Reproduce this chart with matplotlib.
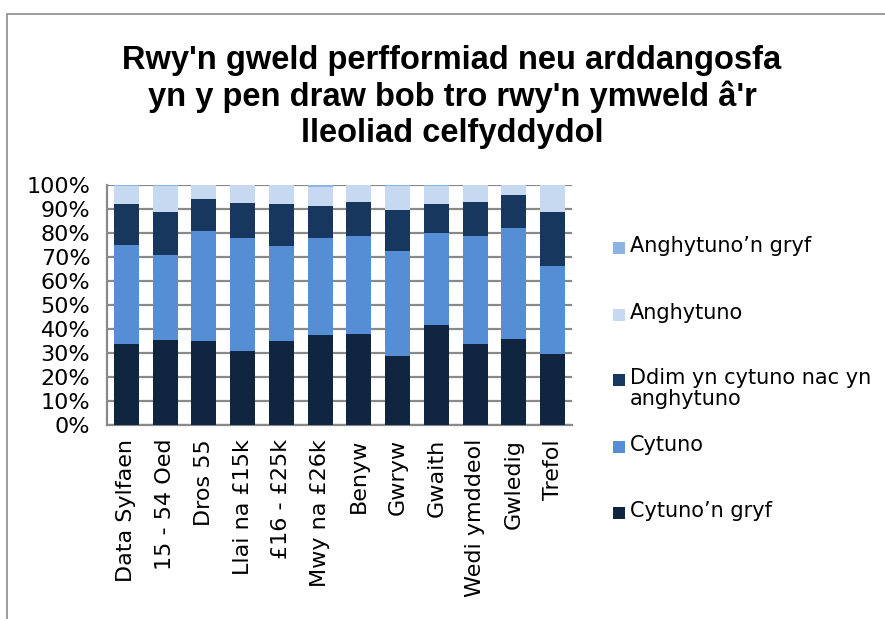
import matplotlib.pyplot as plt
import numpy as np
from matplotlib.patches import Rectangle

plt.rcParams["font.family"] = ["DejaVu Sans"]

# data (percent)
groups = ["Data Sylfaen", "15 - 54 Oed", "Dros 55", "Llai na £15k", "£16 - £25k",
          "Mwy na £26k", "Benyw", "Gwryw", "Gwaith", "Wedi ymddeol", "Gwledig", "Trefol"]
cytuno_gryf = [33.6, 35.4, 34.9, 31.0, 34.9, 37.5, 37.9, 28.6, 41.5, 33.9, 35.7, 29.4]
cytuno = [41.4, 35.6, 45.9, 46.8, 39.7, 40.3, 40.7, 43.8, 38.4, 44.7, 46.4, 36.7]
ddim = [16.9, 17.8, 13.4, 14.6, 17.3, 13.3, 14.2, 17.3, 12.3, 14.2, 13.9, 22.6]
anghytuno = [7.5, 10.7, 5.8, 7.6, 7.9, 7.9, 7.2, 9.8, 7.3, 7.2, 3.8, 11.3]
anghytuno_gryf = [0.6, 0.5, 0.0, 0.0, 0.2, 1.0, 0.0, 0.5, 0.5, 0.0, 0.2, 0.0]

series = [
    ("Cytuno\u2019n gryf", cytuno_gryf, "#10253F"),
    ("Cytuno", cytuno, "#558ED5"),
    ("Ddim yn cytuno nac yn\nanghytuno", ddim, "#17375E"),
    ("Anghytuno", anghytuno, "#C6D9F1"),
    ("Anghytuno\u2019n gryf", anghytuno_gryf, "#8EB4E3"),
]

W, H = 885, 619
fig = plt.figure(figsize=(W / 100, H / 100), dpi=100)
fig.patch.set_facecolor("white")

# outer chart border
fig.patches.append(Rectangle((7 / W, -0.1), 1.2, (H - 14) / H + 0.1,
                             transform=fig.transFigure, fill=False,
                             edgecolor="#8C8C8C", linewidth=1.2))

ax = fig.add_axes([107 / W, (H - 425) / H, 465 / W, 240 / H])

x = np.arange(len(groups))
bottom = np.zeros(len(groups))
for label, vals, color in series:
    vals = np.array(vals)
    ax.bar(x, vals, bottom=bottom, width=0.65, color=color,
           edgecolor="none", label=label, zorder=3)
    bottom += vals

ax.set_xlim(-0.5, len(groups) - 0.5)
ax.set_ylim(0, 100)
ax.set_yticks(np.arange(0, 101, 10))
ax.set_yticklabels([f"{v}%" for v in range(0, 101, 10)])
ax.yaxis.grid(True, color="#8A8A8A", linewidth=1.6, zorder=0)
ax.tick_params(axis="both", length=0, labelsize=16, pad=10)
ax.tick_params(axis="y", pad=12)
ax.set_xticks(x)
ax.set_xticklabels(groups, rotation=90, fontsize=16)
for side in ["top", "right"]:
    ax.spines[side].set_visible(False)
for side in ["left", "bottom"]:
    ax.spines[side].set_color("#8A8A8A")
    ax.spines[side].set_linewidth(1.6)

fig.text(452 / W, 1 - 97 / H,
         "Rwy'n gweld perfformiad neu arddangosfa\n"
         "yn y pen draw bob tro rwy'n ymweld â'r\n"
         "lleoliad celfyddydol",
         ha="center", va="center", fontsize=23.5, fontweight="bold",
         family="Liberation Sans", linespacing=1.2)

# legend, drawn entry by entry to follow the uneven spacing of the original
legend_y = [513, 447, 380, 315, 248]
for (label, _, color), ly in zip(series, legend_y):
    fig.patches.append(Rectangle((613 / W, 1 - (ly + 6) / H), 12 / W, 12 / H,
                                 transform=fig.transFigure, facecolor=color,
                                 edgecolor="none"))
    fig.text(630 / W, 1 - (ly - 12) / H, label, ha="left", va="top",
             fontsize=15, linespacing=1.05)

fig.savefig("out.png", dpi=100)
